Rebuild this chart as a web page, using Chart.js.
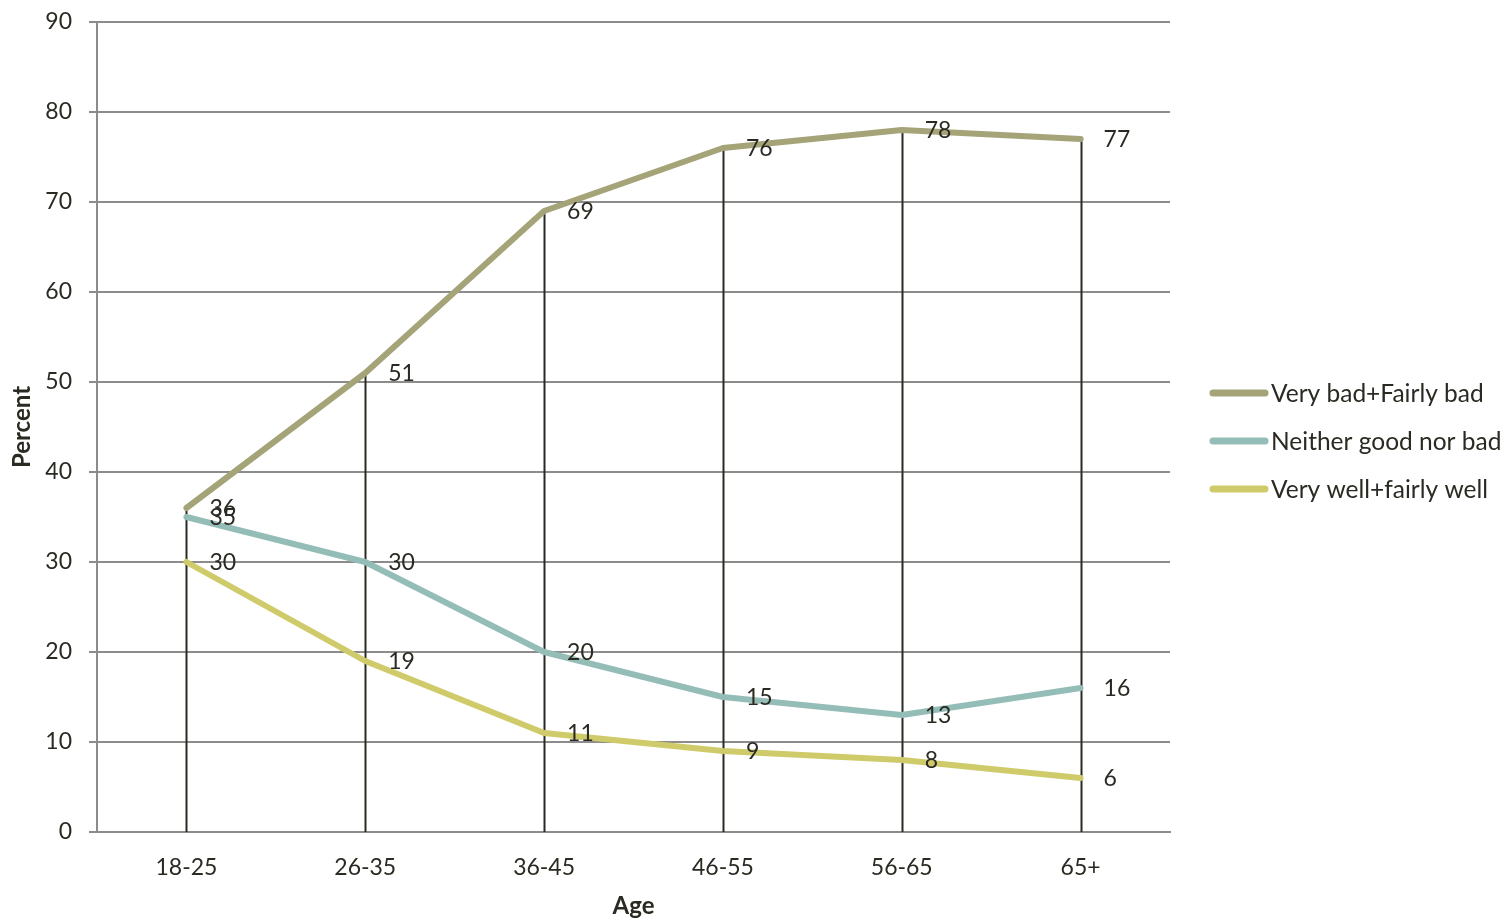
<!DOCTYPE html>
<html lang="en">
<head>
  <meta charset="UTF-8" />
  <title>Percent by Age</title>
  <script src="https://cdn.jsdelivr.net/npm/chart.js"></script>
  <style>
    * { margin: 0; padding: 0; box-sizing: border-box; }
    body { width: 1506px; height: 921px; background: #fff; overflow: hidden; }
    #wrap { position: relative; width: 1506px; height: 921px; }
  </style>
</head>
<body>
  <div id="wrap"><canvas id="chart"></canvas></div>

  <script>
    // data
    const ageGroups = ["18-25", "26-35", "36-45", "46-55", "56-65", "65+"];
    const veryBad = [36, 51, 69, 76, 78, 77];
    const neither = [35, 30, 20, 15, 13, 16];
    const veryWell = [30, 19, 11, 9, 8, 6];
    const yTicks = [0, 10, 20, 30, 40, 50, 60, 70, 80, 90];

    const FONT = "Lato, 'Open Sans', sans-serif";
    const TEXT = "#2b2a22";
    const GRID = "#8c8c8c";

    // vertical drop lines from the highest point down to 0
    const dropLines = {
      id: "dropLines",
      beforeDatasetsDraw(chart) {
        const ctx = chart.ctx;
        const x = chart.scales.x, y = chart.scales.y;
        ctx.save();
        ctx.strokeStyle = TEXT;
        ctx.lineWidth = 2;
        ageGroups.forEach((g, i) => {
          const top = Math.max(veryBad[i], neither[i], veryWell[i]);
          const px = Math.round(x.getPixelForValue(i)) + 0.5;
          ctx.beginPath();
          ctx.moveTo(px, y.getPixelForValue(top));
          ctx.lineTo(px, y.getPixelForValue(0));
          ctx.stroke();
        });
        ctx.restore();
      }
    };

    // value labels to the right of each point
    const valueLabels = {
      id: "valueLabels",
      afterDatasetsDraw(chart) {
        const ctx = chart.ctx;
        ctx.save();
        ctx.font = "23px " + FONT;
        ctx.fillStyle = TEXT;
        ctx.textAlign = "left";
        ctx.textBaseline = "middle";
        chart.data.datasets.forEach((ds, di) => {
          chart.getDatasetMeta(di).data.forEach((pt, i) => {
            ctx.fillText(String(ds.data[i]), pt.x + 23, pt.y + 1);
          });
        });
        ctx.restore();
      }
    };

    // legend on the right, drawn by hand to place it like the original
    const sideLegend = {
      id: "sideLegend",
      afterDraw(chart) {
        const ctx = chart.ctx;
        ctx.save();
        ctx.font = "24.5px " + FONT;
        ctx.textBaseline = "middle";
        ctx.lineCap = "round";
        chart.data.datasets.forEach((ds, i) => {
          const yy = 393 + i * 48;
          ctx.strokeStyle = ds.borderColor;
          ctx.lineWidth = 7;
          ctx.beginPath();
          ctx.moveTo(1213, yy);
          ctx.lineTo(1265, yy);
          ctx.stroke();
          ctx.fillStyle = TEXT;
          ctx.fillText(ds.label, 1271, yy + 1);
        });
        ctx.restore();
      }
    };

    new Chart(document.getElementById("chart"), {
      type: "line",
      data: {
        labels: ageGroups,
        datasets: [
          { label: "Very bad+Fairly bad", data: veryBad, borderColor: "#a5a378" },
          { label: "Neither good nor bad", data: neither, borderColor: "#95bdb8" },
          { label: "Very well+fairly well", data: veryWell, borderColor: "#d0cb6a" }
        ]
      },
      options: {
        responsive: true,
        maintainAspectRatio: false,
        animation: false,
        layout: { padding: { top: 22, right: 336, bottom: 0, left: 0 } },
        elements: {
          line: { borderWidth: 6, tension: 0, borderCapStyle: "round", borderJoinStyle: "round", fill: false },
          point: { radius: 0, hoverRadius: 0 }
        },
        plugins: { legend: { display: false }, tooltip: { enabled: false } },
        scales: {
          x: {
            offset: true,
            grid: { display: false, drawTicks: false },
            border: { display: true, color: GRID, width: 2 },
            ticks: { color: TEXT, font: { family: FONT, size: 23 }, padding: 22 },
            title: { display: true, text: "Age", color: TEXT, font: { family: FONT, size: 24, weight: "bold" }, padding: { top: 0, bottom: 0 } },
            afterFit(scale) { scale.height = 89; }
          },
          y: {
            min: 0,
            max: 90,
            afterBuildTicks(scale) { scale.ticks = yTicks.map(v => ({ value: v })); },
            grid: { color: GRID, lineWidth: 2, tickLength: 8 },
            border: { display: true, color: GRID, width: 2 },
            ticks: { color: TEXT, font: { family: FONT, size: 23 }, padding: 17 },
            title: { display: true, text: "Percent", color: TEXT, font: { family: FONT, size: 24, weight: "bold" }, padding: { top: 8, bottom: 0 } },
            afterFit(scale) {
              scale.width = 97;
              scale.paddingTop = 0;
              scale.paddingBottom = 0;
            }
          }
        }
      },
      plugins: [dropLines, valueLabels, sideLegend]
    });
  </script>
</body>
</html>
